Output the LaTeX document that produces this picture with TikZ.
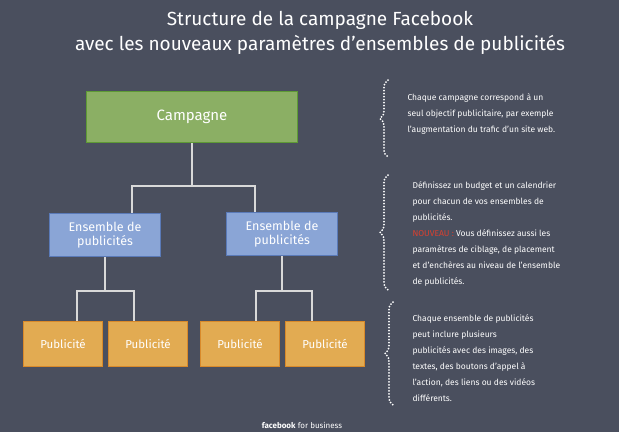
\documentclass[tikz,border=0pt]{standalone}
\usepackage{fontspec}
\setmainfont{Fira Sans}
\usetikzlibrary{positioning,decorations.pathreplacing}
\definecolor{bgcol}{HTML}{4A4F5E}
\definecolor{campfill}{HTML}{8BAF64}
\definecolor{campdraw}{HTML}{5E9A35}
\definecolor{ensfill}{HTML}{8AA5D6}
\definecolor{ensdraw}{HTML}{5A7AB8}
\definecolor{pubfill}{HTML}{E2AB52}
\definecolor{pubdraw}{HTML}{D98A2A}
\definecolor{newred}{HTML}{D94030}
\begin{document}
\begin{tikzpicture}
   [x=1pt, y=-1pt,
    campbox/.style={draw=campdraw,fill=campfill,thick,minimum width=211pt,minimum height=51pt,text=white,font=\fontsize{15}{16}\selectfont},
    ensbox/.style={draw=ensdraw,fill=ensfill,thick,minimum width=111pt,minimum height=43pt,text=white,align=center,font=\fontsize{12.5}{14}\selectfont},
    pubbox/.style={draw=pubdraw,fill=pubfill,thick,minimum width=79pt,minimum height=45pt,text=white,font=\fontsize{11.5}{12}\selectfont},
    link/.style={draw=white!85!black,line width=1.3pt},
    dotbrace/.style={draw=white,line width=2pt,dash pattern=on 0pt off 3pt,line cap=round,decorate,decoration={brace,mirror,amplitude=8pt}},
    note/.style={anchor=west,text=white,align=left,font=\fontsize{8.5}{16}\selectfont}]
     % background
     \fill[bgcol] (0,0) rectangle (619,432);
     % title
     \node (title) at (320,33) [text=white,align=center,font=\fontsize{19}{25}\selectfont]
       {Structure de la campagne Facebook\\avec les nouveaux paramètres d’ensembles de publicités};
     % boxes
     \node (camp) at (192,117) [campbox] {Campagne};
     \node (ens1) at (105,235) [ensbox] {Ensemble de\\publicités};
     \node (ens2) at (282,234) [ensbox] {Ensemble de\\publicités};
     \node (pub1) at (63,344) [pubbox] {Publicité};
     \node (pub2) at (148,344) [pubbox] {Publicité};
     \node (pub3) at (240,344) [pubbox] {Publicité};
     \node (pub4) at (325,344) [pubbox] {Publicité};
     % connectors
     \draw [link] (camp.south) |- (132,186) -- (ens1.north -| 132,0);
     \draw [link] (camp.south) |- (255,186) -- (ens2.north -| 255,0);
     \foreach \e/\a/\b/\l/\r in {ens1/pub1/pub2/77/134, ens2/pub3/pub4/256/312} {
       \draw [link] (\e.south) |- (\l,291) -- (\a.north -| \l,0);
       \draw [link] (\e.south) |- (\r,291) -- (\b.north -| \r,0);
     };
     % braces
     \draw [dotbrace] (388,80) -- (388,157);
     \draw [dotbrace] (388,175) -- (388,290);
     \draw [dotbrace] (393,302) -- (393,405);
     % notes
     \node (note1) at (404,114) [note] {Chaque campagne correspond à un\\seul objectif publicitaire, par exemple\\l’augmentation du trafic d’un site web.};
     \node (note2) at (409,234) [note] {Définissez un budget et un calendrier\\pour chacun de vos ensembles de\\publicités.\\{\color{newred}NOUVEAU :} Vous définissez aussi les\\paramètres de ciblage, de placement\\et d’enchères au niveau de l’ensemble\\de publicités.};
     \node (note3) at (409,358) [note] {Chaque ensemble de publicités\\peut inclure plusieurs\\publicités avec des images, des\\textes, des boutons d’appel à\\l’action, des liens ou des vidéos\\différents.};
     \node (footer) at (302,425) [text=white,font=\fontsize{8}{8}\selectfont] {\textbf{facebook} for business};
 \end{tikzpicture}
\end{document}
